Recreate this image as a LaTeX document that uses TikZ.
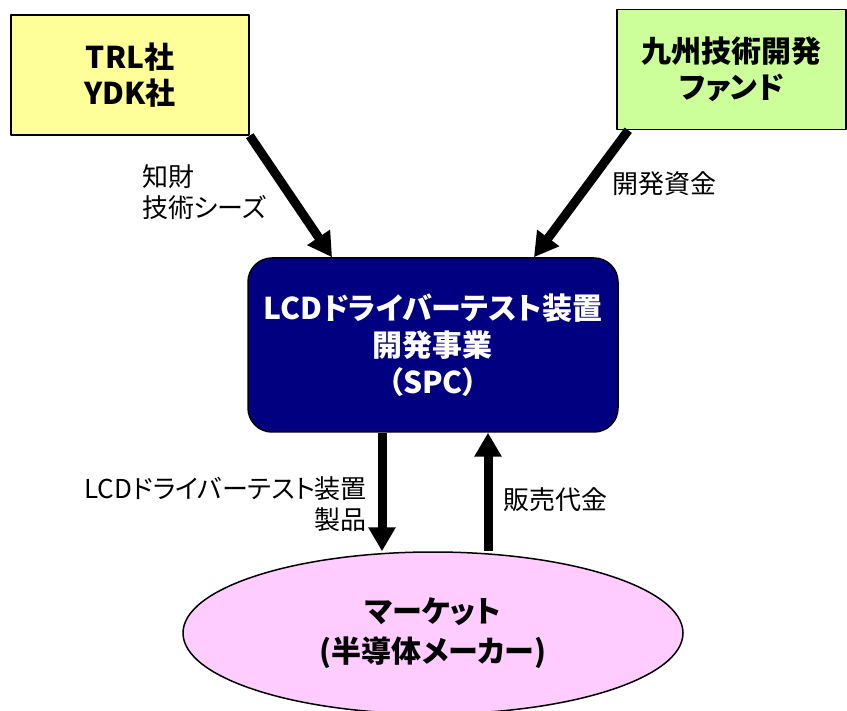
\documentclass[tikz,border=0pt]{standalone}
\usepackage{fontspec}
\setmainfont{Noto Sans CJK JP}[RawFeature=+palt]
\usetikzlibrary{arrows.meta,shapes.geometric}
\definecolor{boxyellow}{HTML}{FFFF99}
\definecolor{boxgreen}{HTML}{CCFF99}
\definecolor{spcblue}{HTML}{000080}
\definecolor{mktpink}{HTML}{FFCCFF}
\begin{document}
\begin{tikzpicture}[x=0.5pt,y=-0.5pt,>={Triangle[width=13pt,length=12pt]},line join=round,
  partner/.style={draw,line width=0.75pt,minimum width=119pt,minimum height=60pt,align=center,font=\fontsize{15}{18}\selectfont\bfseries},
  flow/.style={->,line width=4.5pt},
  lbl/.style={font=\fontsize{13}{15.5}\selectfont}]
\useasboundingbox (0,0) rectangle (847,711);
% Beteiligte
\node[partner,fill=boxyellow] (trl) at (130,75) {TRL社\\YDK社};
\node[partner,fill=boxgreen,minimum width=114.5pt] (fund) at (731.5,69.5) {九州技術開発\\ファンド};
\node[draw,line width=0.75pt,fill=spcblue,text=white,rounded corners=12pt,minimum width=185pt,minimum height=87pt,
  align=center,font=\fontsize{15}{18.5}\selectfont\bfseries] (spc) at (433,345) {LCDドライバーテスト装置\\開発事業\\（SPC）};
\node[ellipse,draw,line width=0.75pt,fill=mktpink,minimum width=250pt,minimum height=81pt,
  align=center,font=\fontsize{15}{20}\selectfont\bfseries] (mkt) at (433,633) {マーケット\\(半導体メーカー)};
% Pfeile
\draw[flow] (trl.south east) -- (spc.139);
\draw[flow] ([xshift=6pt]fund.south west) -- (spc.41.6);
\draw[flow] ([xshift=-25.5pt]spc.south) -- ([xshift=-25.5pt]mkt.north);
\draw[flow] ([xshift=27.5pt]mkt.north) -- ([xshift=27.5pt]spc.south);
\node[lbl,align=left,anchor=west] (seeds) at (135,192) {知財\\技術シーズ};
\node[lbl,anchor=west] (money) at (605,184) {開発資金};
\node[lbl,align=right,anchor=east] (product) at (374,504) {LCDドライバーテスト装置\\製品};
\node[lbl,anchor=west] (sales) at (496,500) {販売代金};
\end{tikzpicture}
\end{document}
